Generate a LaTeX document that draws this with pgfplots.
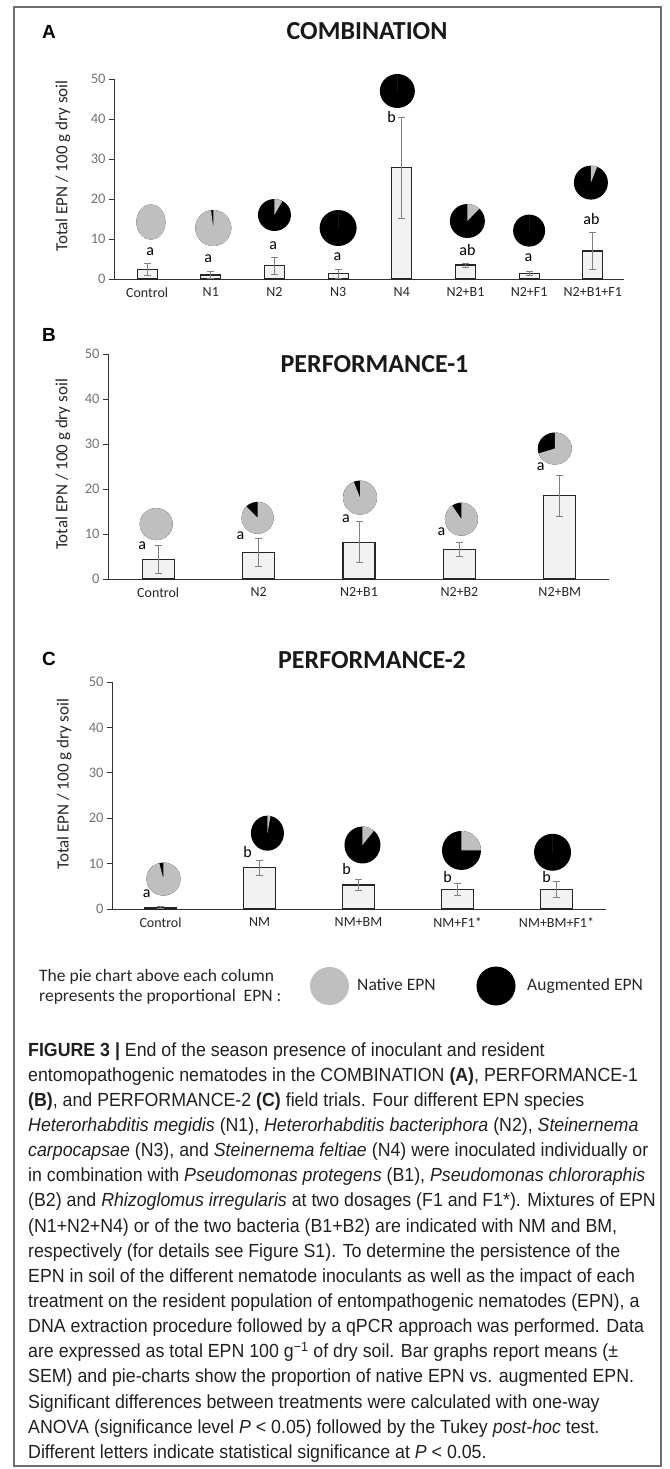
\documentclass[border=0pt]{standalone}
\usepackage{fontspec}
\setmainfont{Carlito}
\newfontfamily\arialfont{Liberation Sans}
\newfontfamily\capfont[FakeStretch=0.935]{Liberation Sans}
\usepackage{pgfplots}
\pgfplotsset{compat=1.18}

\definecolor{barfill}{RGB}{242,242,242}
\definecolor{natcol}{RGB}{191,191,191}
\definecolor{errcol}{RGB}{128,128,128}
\definecolor{capcol}{RGB}{35,31,32}
\definecolor{framecol}{RGB}{110,110,110}
\newcommand\fs[1]{\fontsize{#1}{#1}\selectfont}

% pie mark: grey (native) share runs clockwise from 12 o'clock, rest black
\pgfdeclareplotmark{pie}{%
  \pgfscope
  \pgfsetfillcolor{black}%
  \pgfpathellipse{\pgfpointorigin}{\pgfqpoint{\prx pt}{0pt}}{\pgfqpoint{0pt}{\pry pt}}%
  \pgfusepathqfill
  \pgfsetfillcolor{natcol}%
  \pgfmathsetmacro\endang{90-360*\nat}%
  \pgfpathmoveto{\pgfpointorigin}%
  \pgfpathlineto{\pgfqpoint{0pt}{\pry pt}}%
  \pgfpatharc{90}{\endang}{\prx pt and \pry pt}%
  \pgfpathclose
  \pgfusepathqfill
  \endpgfscope
}

\pgfplotsset{
  panel/.style={
    scale only axis, anchor=south west, clip=false,
    ymin=0, ymax=50, ytick={0,10,...,50},
    axis x line*=bottom, axis y line*=left,
    axis line style={black!80, line width=1pt},
    tick align=outside, major tick length=5pt,
    ytick style={black!80, line width=1pt},
    xtick style={draw=none},
    /pgf/number format/assume math mode=true,
    yticklabel style={font=\fs{14.5}, text=black!55},
    xticklabel style={font=\fs{14}, text=black!85},
    ylabel={Total EPN / 100 g dry soil},
    ylabel style={font=\fs{17}, text=black!85, anchor=center},
  },
  bars/.style={ybar, bar width=#1, draw=black!85, line width=1.2pt, fill=barfill,
    error bars/.cd, y dir=both, y explicit,
    error bar style={errcol, line width=0.9pt},
    error mark options={errcol, mark size=3.5pt, line width=0.9pt, rotate=90}},
  pies/.style={scatter, only marks, mark=pie, point meta=y,
    visualization depends on={value \thisrow{nat}\as\nat},
    visualization depends on={value \thisrow{rx}\as\prx},
    visualization depends on={value \thisrow{ry}\as\pry}},
}

\begin{document}
\begin{tikzpicture}
\useasboundingbox (0pt,0pt) rectangle (669pt,-1469pt);
\draw[framecol, line width=1.3pt] (14pt,-7pt) rectangle (661pt,-1466pt);

% ---------------- A: COMBINATION
\node[anchor=base west, inner sep=0, font=\arialfont\bfseries\fs{19}] at (42pt,-39pt) {A};
\node[anchor=base, inner sep=0, font=\bfseries\fs{26}, text=black!90] at (367pt,-40pt) {COMBINATION};
\begin{axis}[panel, at={(114pt,-279pt)}, width=510pt, height=200pt,
  xmin=-0.52, xmax=7.49, xtick={0,...,7},
  xticklabels={Control,N1,N2,N3,N4,N2+B1,N2+F1,N2+B1+F1},
  ylabel style={at={(axis description cs:-0.1,0.565)}}]
\addplot[bars=20pt] table[x=x, y=y, y error=e] {
x y e
0 2.4 1.4
1 1.0 0.8
2 3.3 2.2
3 1.3 1.2
4 27.8 12.6
5 3.5 0.5
6 1.3 0.5
7 7.0 4.7
};
\addplot[pies] table[x=x, y=y] {
x y nat rx ry
0.06 14.25 1.00 14.5 17.5
1.04 12.75 0.98 18 18
2.00 16.0 0.08 16.5 16
3.00 12.75 0.0 18.5 18
3.93 47.0 0.0 17.5 17
5.03 14.5 0.12 17.5 17
6.00 12.1 0.0 16 16
6.97 24.1 0.06 17 17
};
\node[font=\fs{16}] at (axis cs:0.05,6.8) {a};
\node[font=\fs{16}] at (axis cs:0.96,5.0) {a};
\node[font=\fs{16}] at (axis cs:1.98,8.25) {a};
\node[font=\fs{16}] at (axis cs:2.99,5.5) {a};
\node[font=\fs{16}] at (axis cs:3.84,40.4) {b};
\node[font=\fs{16}] at (axis cs:5.03,7.25) {ab};
\node[font=\fs{16}] at (axis cs:5.99,5.25) {a};
\node[font=\fs{16}] at (axis cs:6.98,15.0) {ab};
\end{axis}

% ---------------- B: PERFORMANCE-1
\node[anchor=base west, inner sep=0, font=\arialfont\bfseries\fs{19}] at (42pt,-341pt) {B};
\node[anchor=base, inner sep=0, font=\bfseries\fs{26}, text=black!90] at (374.5pt,-372pt) {PERFORMANCE-1};
\begin{axis}[panel, at={(108pt,-579pt)}, width=501pt, height=225pt,
  xmin=-0.5, xmax=4.49, xtick={0,...,4},
  xticklabels={Control,N2,N2+B1,N2+B2,N2+BM},
  ylabel style={at={(axis description cs:-0.09,0.509)}}]
\addplot[bars=32pt] table[x=x, y=y, y error=e] {
x y e
0 4.4 3.1
1 5.9 3.1
2 8.2 4.5
3 6.6 1.5
4 18.5 4.6
};
\addplot[pies] table[x=x, y=y] {
x y nat rx ry
-0.02 12.2 1.00 16.5 16
0.99 13.6 0.875 16 16
2.01 18.1 0.94 17 17
3.02 13.3 0.905 16.5 16.5
3.95 29.0 0.70 17 16
};
\node[font=\fs{16}] at (axis cs:-0.16,7.4) {a};
\node[font=\fs{16}] at (axis cs:0.82,9.7) {a};
\node[font=\fs{16}] at (axis cs:1.87,13.3) {a};
\node[font=\fs{16}] at (axis cs:2.82,10.5) {a};
\node[font=\fs{16}] at (axis cs:3.81,24.9) {a};
\end{axis}

% ---------------- C: PERFORMANCE-2
\node[anchor=base west, inner sep=0, font=\arialfont\bfseries\fs{19}] at (42pt,-665pt) {C};
\node[anchor=base, inner sep=0, font=\bfseries\fs{26}, text=black!90] at (372pt,-668pt) {PERFORMANCE-2};
\begin{axis}[panel, at={(112pt,-909pt)}, width=494pt, height=227pt,
  xmin=-0.49, xmax=4.5, xtick={0,...,4},
  xticklabels={Control,NM,NM+BM,NM+F1*,NM+BM+F1*},
  ylabel style={at={(axis description cs:-0.097,0.55)}}]
\addplot[bars=32pt] table[x=x, y=y, y error=e] {
x y e
0 0.4 0.2
1 9.1 1.7
2 5.3 1.3
3 4.3 1.3
4 4.3 1.7
};
\addplot[pies] table[x=x, y=y] {
x y nat rx ry
0.03 6.6 0.96 17 16.5
1.08 16.7 0.03 16.5 17.5
2.04 14.1 0.11 18 18.5
3.04 12.9 0.25 19.5 19.5
3.96 12.5 0.0 18.5 18.5
};
\node[font=\fs{16}] at (axis cs:-0.14,3.3) {a};
\node[font=\fs{16}] at (axis cs:0.88,12.6) {b};
\node[font=\fs{16}] at (axis cs:1.88,8.8) {b};
\node[font=\fs{16}] at (axis cs:2.90,7.0) {b};
\node[font=\fs{16}] at (axis cs:3.90,7.0) {b};
\end{axis}

% ---------------- pie legend
\begin{scope}[font=\fs{17.5}, text=black!85]
\node[anchor=base west, inner sep=0] at (39pt,-981pt) {The pie chart above each column};
\node[anchor=base west, inner sep=0] at (39pt,-1001pt) {represents the proportional\ \ EPN :};
\fill[natcol] (329.5pt,-986pt) ellipse[x radius=19.5pt, y radius=19pt];
\node[anchor=base west, inner sep=0] at (357pt,-990pt) {Native EPN};
\fill[black] (496pt,-986pt) ellipse[x radius=19.5pt, y radius=19.5pt];
\node[anchor=base west, inner sep=0] at (527pt,-990pt) {Augmented EPN};
\end{scope}

% ---------------- caption
\begin{scope}[font=\capfont\fs{19}, text=capcol]
\foreach \t [count=\i from 0] in {
  {\textbf{FIGURE 3 |} End of the season presence of inoculant and resident},
  {entomopathogenic nematodes in the COMBINATION \textbf{(A)}, PERFORMANCE-1},
  {\textbf{(B)}, and PERFORMANCE-2 \textbf{(C)} field trials. Four different EPN species},
  {\textit{Heterorhabditis megidis} (N1), \textit{Heterorhabditis bacteriphora} (N2), \textit{Steinernema}},
  {\textit{carpocapsae} (N3), and \textit{Steinernema feltiae} (N4) were inoculated individually or},
  {in combination with \textit{Pseudomonas protegens} (B1), \textit{Pseudomonas chlororaphis}},
  {(B2) and \textit{Rhizoglomus irregularis} at two dosages (F1 and F1*). Mixtures of EPN},
  {(N1+N2+N4) or of the two bacteria (B1+B2) are indicated with NM and BM,},
  {respectively (for details see Figure S1). To determine the persistence of the},
  {EPN in soil of the different nematode inoculants as well as the impact of each},
  {treatment on the resident population of entompathogenic nematodes (EPN), a},
  {DNA extraction procedure followed by a qPCR approach was performed. Data},
  {are expressed as total EPN 100 g\textsuperscript{−1} of dry soil. Bar graphs report means (±},
  {SEM) and pie-charts show the proportion of native EPN vs. augmented EPN.},
  {Significant differences between treatments were calculated with one-way},
  {ANOVA (significance level \textit{P} < 0.05) followed by the Tukey \textit{post-hoc} test.},
  {Different letters indicate statistical significance at \textit{P} < 0.05.}}
  \node[anchor=base west, inner sep=0] at (28pt,{-1056pt-25.15pt*\i}) {\t};
\end{scope}
\end{tikzpicture}
\end{document}
